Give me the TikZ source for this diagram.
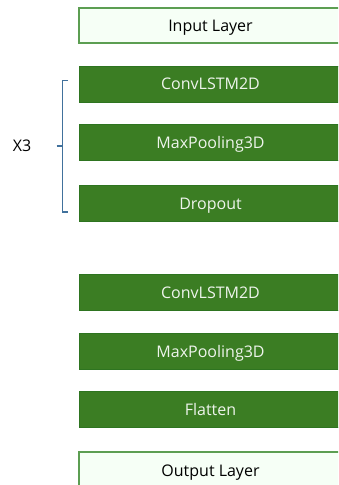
\documentclass[tikz,border=0pt]{standalone}
\usepackage{fontspec}
\setmainfont{Open Sans}
\definecolor{dgreen}{HTML}{3B7D23}
\definecolor{dgreenline}{HTML}{2E7420}
\definecolor{lfill}{HTML}{F6FFF6}
\definecolor{lline}{HTML}{5C9E52}
\definecolor{brace}{HTML}{41719C}
\definecolor{wtext}{HTML}{EEF4EC}
\tikzset{
  lfont/.style={font=\fontsize{16}{18}\selectfont, text depth=0pt},
  darkbox/.style={rectangle, draw=dgreenline, fill=dgreen, line width=1pt, minimum width=263pt, minimum height=36pt, inner sep=0pt, text=wtext, lfont},
  lightbox/.style={rectangle, draw=lline, fill=lfill, line width=1.2pt, minimum width=263pt, minimum height=35pt, inner sep=0pt, text=black, lfont},
  bracestyle/.style={draw=brace, line width=1.1pt},
}
\begin{document}
\begin{tikzpicture}[x=1pt,y=-1pt]
\useasboundingbox (0,0) rectangle (338,485);
\clip (0,0) rectangle (338,485);
\node[lightbox] (input) at (210.5,25.5) {Input Layer};
\node[darkbox] (conv1) at (210.5,84) {ConvLSTM2D};
\node[darkbox] (pool1) at (210.5,142.5) {MaxPooling3D};
\node[darkbox] (drop) at (210.5,203.5) {Dropout};
\node[darkbox] (conv2) at (210.5,292.5) {ConvLSTM2D};
\node[darkbox] (pool2) at (210.5,351) {MaxPooling3D};
\node[darkbox] (flat) at (210.5,409.5) {Flatten};
\node[lightbox, minimum height=50pt] (output) at (210.5,477) {};
\node[text=black, lfont] (outlabel) at (210.5,470.5) {Output Layer};
\node[lfont, text=black] (x3) at (22,146) {X3};
\coordinate (btop) at (68,80.5);
\coordinate (bbot) at (68,212);
\coordinate (bmid) at (56.5,146);
\draw[bracestyle] (btop) -- (62.5,80.5) -- (62.5,212) -- (bbot);
\draw[bracestyle] (bmid) -- (62.5,146);
\end{tikzpicture}
\end{document}
